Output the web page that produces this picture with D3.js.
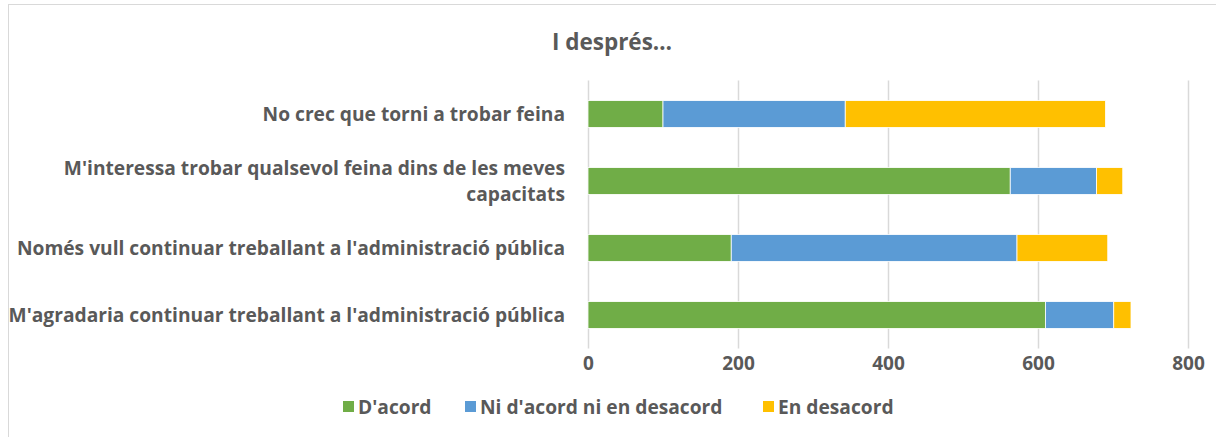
<!DOCTYPE html>
<html>
<head>
<meta charset="utf-8">
<script src="https://cdn.jsdelivr.net/npm/d3@7"></script>
<style>
  body { margin: 0; background: #fff; }
  text { font-family: 'Open Sans', sans-serif; font-weight: bold; fill: #595959; }
</style>
</head>
<body>
<svg id="chart" width="1216" height="437"></svg>
<script>
const categories = [
  'No crec que torni a trobar feina',
  "M'interessa trobar qualsevol feina dins de les meves capacitats",
  "Només vull continuar treballant a l'administració pública",
  "M'agradaria continuar treballant a l'administració pública"
];
const seriesNames = ["D'acord", "Ni d'acord ni en desacord", 'En desacord'];
const acord = [100, 563, 191, 610];
const niNi = [243, 115, 381, 91];
const desacord = [347, 35, 121, 23];
const xTicks = [0, 200, 400, 600, 800];
const colors = ['#70AD47', '#5B9BD5', '#FFC000'];

const svg = d3.select('#chart');

// outer frame
svg.append('rect')
  .attr('x', 8.5).attr('y', 4.5)
  .attr('width', 1216).attr('height', 440)
  .attr('fill', 'none').attr('stroke', '#d9d9d9');

const plot = {left: 588, right: 1188, top: 80.5, bottom: 348.5};

const x = d3.scaleLinear().domain([0, 800]).range([plot.left, plot.right]);
const y = d3.scaleBand().domain(categories)
  .range([plot.top, plot.bottom]).paddingInner(0.6).paddingOuter(0.3);

// gridlines
svg.append('g').selectAll('line').data(xTicks).enter().append('line')
  .attr('x1', d => Math.round(x(d)) + 0.5).attr('x2', d => Math.round(x(d)) + 0.5)
  .attr('y1', plot.top).attr('y2', plot.bottom)
  .attr('stroke', '#d9d9d9').attr('stroke-width', 1.5);

// stacked data
const rows = categories.map((c, i) => ({cat: c, v0: acord[i], v1: niNi[i], v2: desacord[i]}));
const stack = d3.stack().keys(['v0', 'v1', 'v2'])(rows);

svg.append('g').selectAll('g').data(stack).enter().append('g')
  .attr('fill', (d, i) => colors[i])
  .selectAll('rect').data(d => d).enter().append('rect')
  .attr('x', d => x(d[0]))
  .attr('width', d => x(d[1]) - x(d[0]))
  .attr('y', d => y(d.data.cat))
  .attr('height', y.bandwidth())
  .attr('stroke', '#fff').attr('stroke-width', 0.8);

// x axis labels
const xAxis = d3.axisBottom(x).tickValues(xTicks).tickSize(0).tickPadding(0);
const gx = svg.append('g').attr('transform', 'translate(0,' + 351 + ')').call(xAxis);
gx.select('.domain').remove();
gx.selectAll('text').attr('font-size', 19).attr('dy', '1em')
  .style('font-family', "'Open Sans', sans-serif").attr('fill', '#595959');

// category labels (wrapped)
const wraps = {
  "M'interessa trobar qualsevol feina dins de les meves capacitats":
    ["M'interessa trobar qualsevol feina dins de les meves", 'capacitats']
};
const labelG = svg.append('g');
categories.forEach(c => {
  const lines = wraps[c] || [c];
  const cy = y(c) + y.bandwidth() / 2;
  const t = labelG.append('text')
    .attr('text-anchor', 'end')
    .attr('font-size', 19.2);
  lines.forEach((ln, k) => {
    t.append('tspan')
      .attr('x', 565)
      .attr('y', cy + 6.5 + (k - (lines.length - 1) / 2) * 26)
      .text(ln);
  });
});

// title
svg.append('text')
  .attr('x', 612).attr('y', 50)
  .attr('text-anchor', 'middle')
  .attr('font-size', 22.5)
  .text('I després…');

// legend
const legendX = [343, 465, 763];
const lg = svg.append('g');
seriesNames.forEach((s, i) => {
  lg.append('rect')
    .attr('x', legendX[i]).attr('y', 401)
    .attr('width', 11).attr('height', 11)
    .attr('fill', colors[i]);
  lg.append('text')
    .attr('x', legendX[i] + 15).attr('y', 414)
    .attr('font-size', 19.2)
    .text(s);
});
</script>
</body>
</html>
